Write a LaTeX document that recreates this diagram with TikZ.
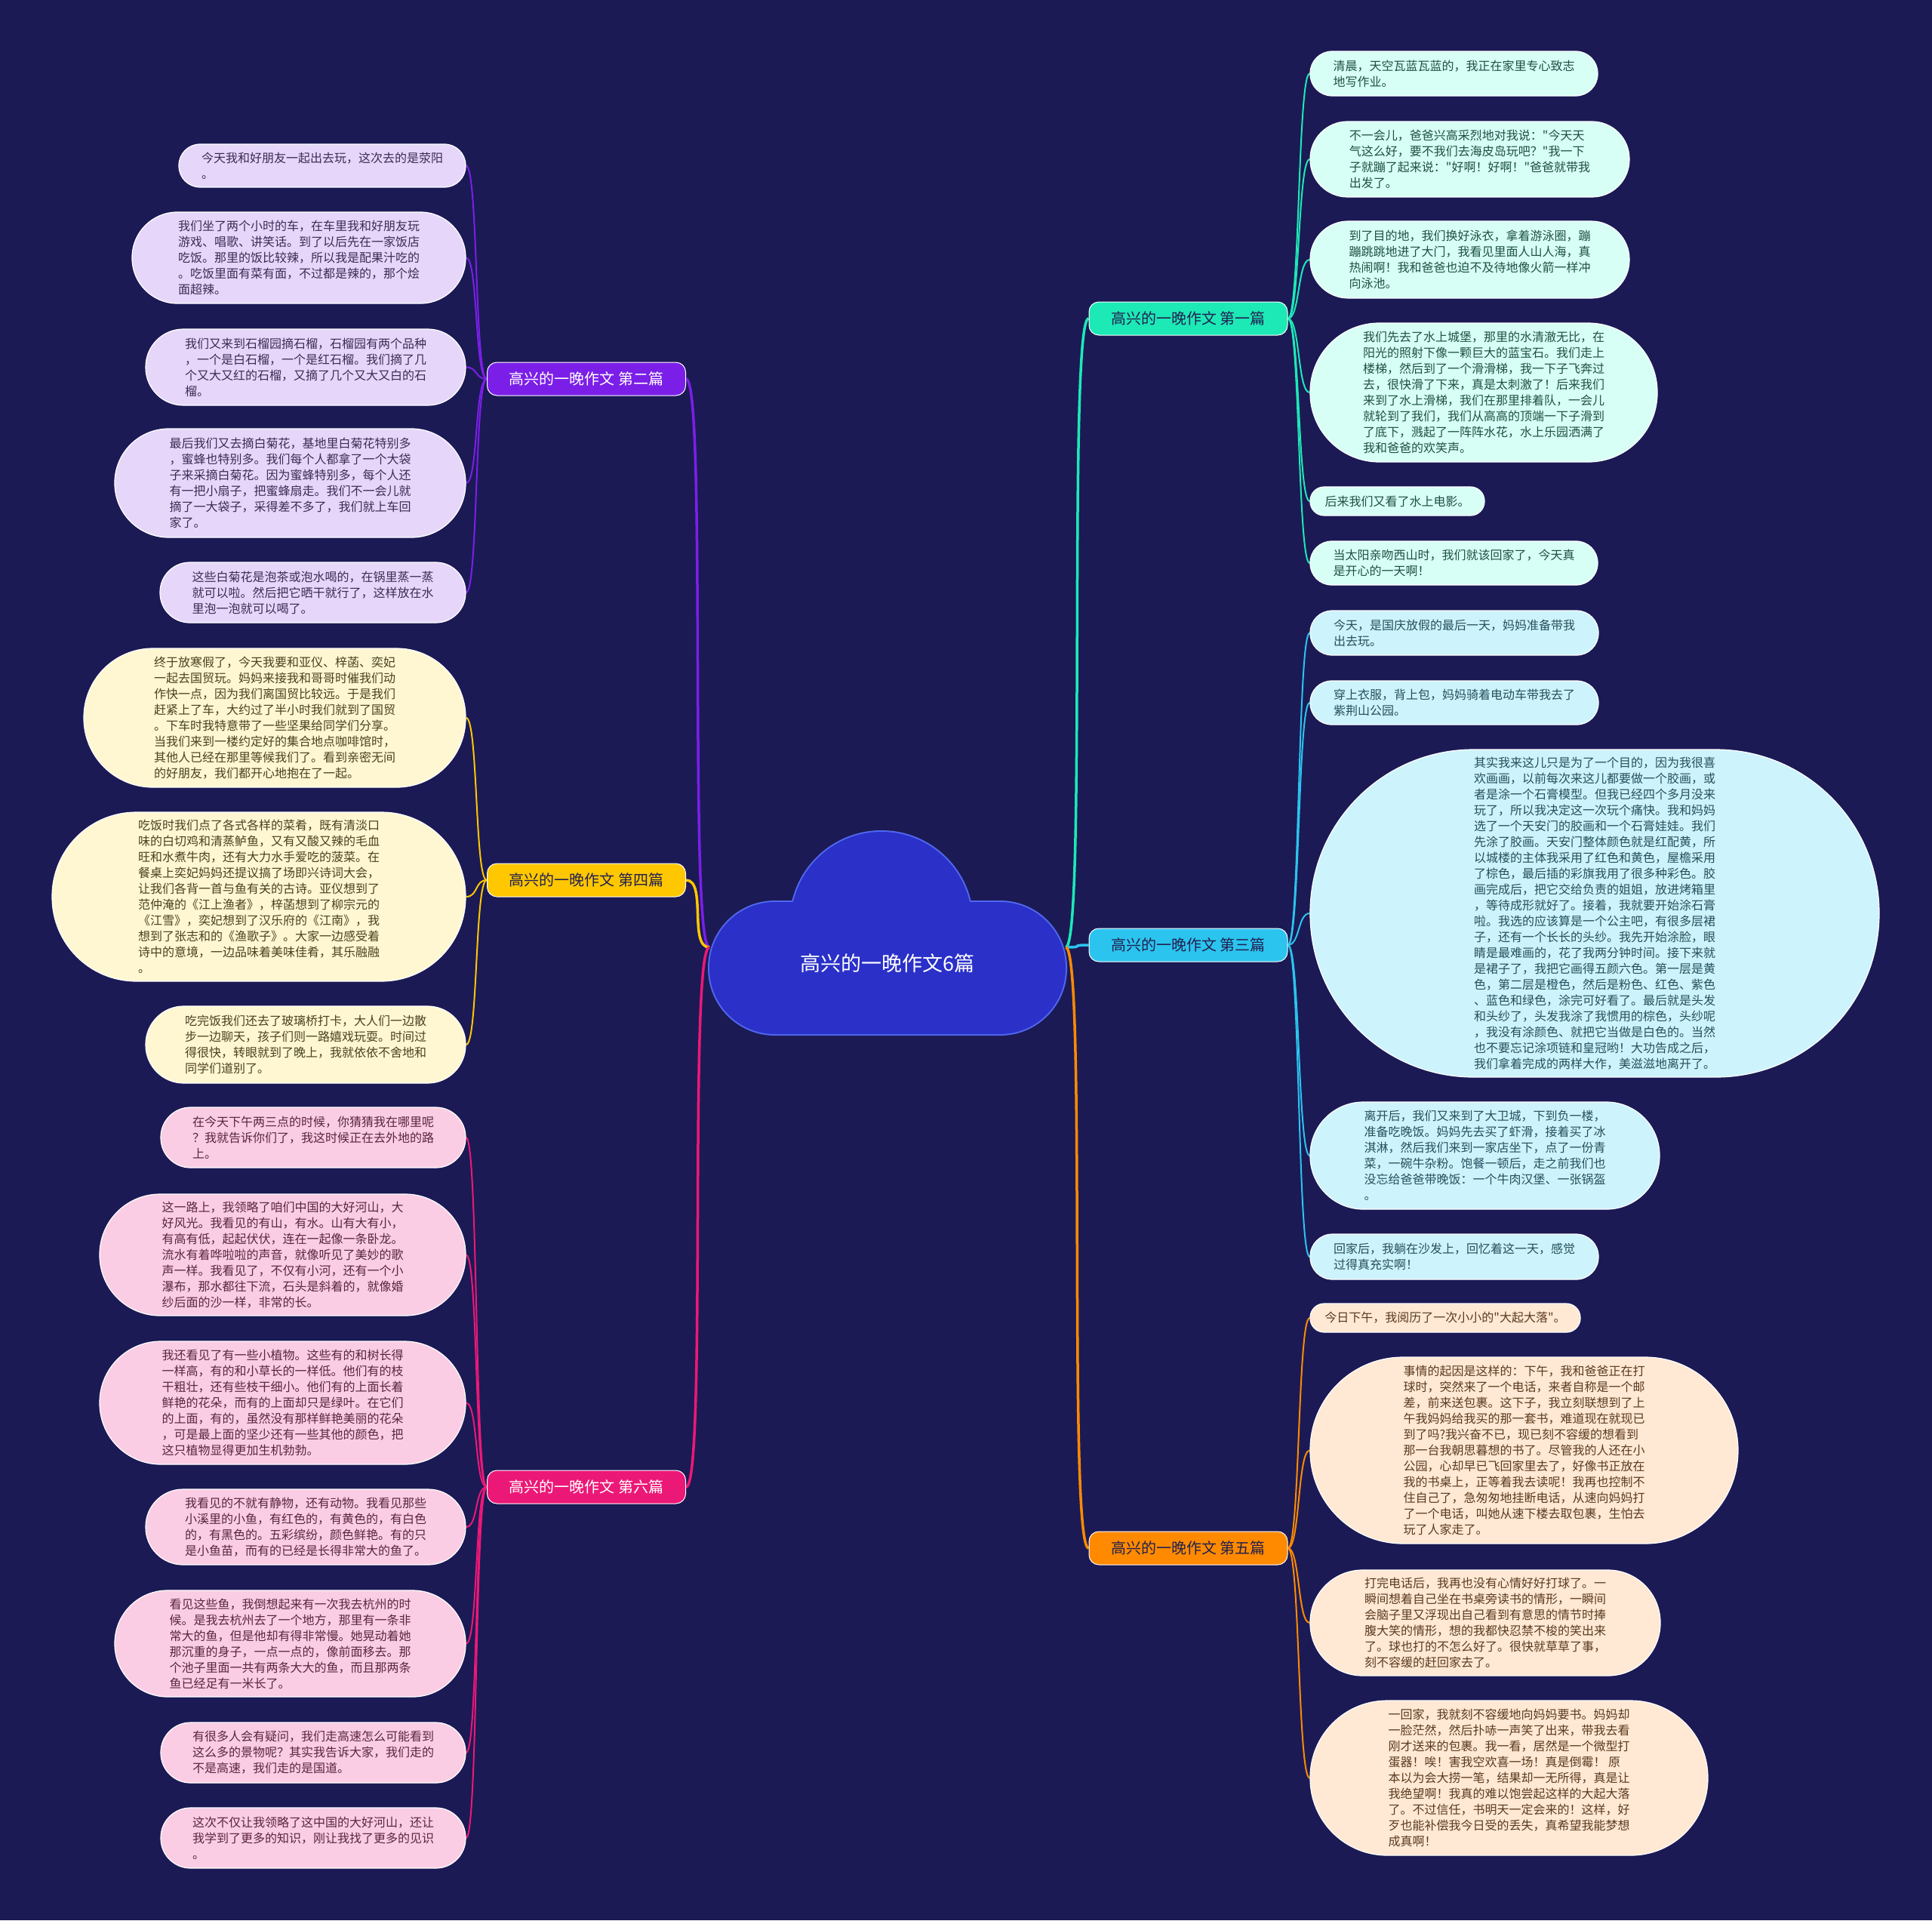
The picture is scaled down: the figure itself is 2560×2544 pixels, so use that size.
\documentclass[tikz,border=0pt]{standalone}
\usepackage{fontspec}
\setmainfont{Noto Sans CJK SC}[Ligatures=TeXOff]
\usetikzlibrary{backgrounds}
\definecolor{bgc}{HTML}{1B1A55}
\definecolor{cloudF}{HTML}{2A30C8}
\definecolor{cloudD}{HTML}{5068EE}
\definecolor{cP}{HTML}{7B1FE8}
\definecolor{cY}{HTML}{FFC700}
\definecolor{cK}{HTML}{EC1877}
\definecolor{cT}{HTML}{1DE9B6}
\definecolor{cC}{HTML}{2BC4EE}
\definecolor{cO}{HTML}{FF8A00}
\definecolor{lvP}{HTML}{E6D7FA}
\definecolor{lvY}{HTML}{FFF7D2}
\definecolor{lvK}{HTML}{FACDE4}
\definecolor{lvT}{HTML}{D7FFF5}
\definecolor{lvC}{HTML}{CDF3FC}
\definecolor{lvO}{HTML}{FFE8D4}
\definecolor{txP}{HTML}{3D2A55}
\definecolor{txY}{HTML}{4A4020}
\definecolor{txK}{HTML}{5A2440}
\definecolor{txT}{HTML}{1F4F45}
\definecolor{txC}{HTML}{24505C}
\definecolor{txO}{HTML}{5A3A1E}
\definecolor{txD}{HTML}{222050}
\begin{document}
\begin{tikzpicture}[x=1pt,y=-1pt,
  lf/.style 2 args={rectangle, minimum width=#1, minimum height=#2, rounded corners=#2/2-0.5, inner sep=0pt, align=left, draw=white, line width=1.2pt, font=\fontsize{16}{21}\selectfont},
  lfP/.style={fill=lvP, text=txP},
  lfY/.style={fill=lvY, text=txY},
  lfK/.style={fill=lvK, text=txK},
  lfT/.style={fill=lvT, text=txT},
  lfC/.style={fill=lvC, text=txC},
  lfO/.style={fill=lvO, text=txO},
  branch/.style={rectangle, rounded corners=13, minimum width=263, minimum height=44, inner sep=0pt, draw=white, line width=1pt, font=\fontsize{20}{24}\selectfont},
  cn/.style={line width=2pt},
  rcn/.style={line width=3.5pt}]
\begin{pgfonlayer}{background}
\fill[bgc] (0,0) rectangle (2560,2544);
\end{pgfonlayer}
\useasboundingbox (0,0) rectangle (2560,2544);

% cloud
\draw[cloudD, line width=4pt, rounded corners=87] (940,1195) rectangle (1412,1370);
\draw[cloudD, line width=4pt] (1168,1222) circle (120);
\fill[cloudF, rounded corners=87] (940,1195) rectangle (1412,1370);
\fill[cloudF] (1168,1222) circle (120);
\node[text=white, font=\fontsize{27}{32}\selectfont] (root) at (1176,1276) {高兴的一晚作文6篇};
\coordinate (rootR) at (1412,1255);
\coordinate (rootL) at (940,1255);

% branches
\node[branch, fill=cT, text=txD] (b1) at (1574.5,422) {高兴的一晚作文 第一篇};
\node[branch, fill=cC, text=txD] (b3) at (1574.5,1252) {高兴的一晚作文 第三篇};
\node[branch, fill=cO, text=txD] (b5) at (1574.5,2051) {高兴的一晚作文 第五篇};
\node[branch, fill=cP, text=white] (b2) at (777,502) {高兴的一晚作文 第二篇};
\node[branch, fill=cY, text=txD] (b4) at (777,1166) {高兴的一晚作文 第四篇};
\node[branch, fill=cK, text=white] (b6) at (777,1970) {高兴的一晚作文 第六篇};

% left: 第二篇
\node[lf={380}{57}, lfP] (l2a) at (427,219.5) {今天我和好朋友一起出去玩，这次去的是荥阳\\。};
\node[lf={442}{121}, lfP] (l2b) at (396,341.5) {我们坐了两个小时的车，在车里我和好朋友玩\\游戏、唱歌、讲笑话。到了以后先在一家饭店\\吃饭。那里的饭比较辣，所以我是配果汁吃的\\。吃饭里面有菜有面，不过都是辣的，那个烩\\面超辣。};
\node[lf={424}{101}, lfP] (l2c) at (405,486.5) {我们又来到石榴园摘石榴，石榴园有两个品种\\，一个是白石榴，一个是红石榴。我们摘了几\\个又大又红的石榴，又摘了几个又大又白的石\\榴。};
\node[lf={465}{144}, lfP] (l2d) at (384.5,640) {最后我们又去摘白菊花，基地里白菊花特别多\\，蜜蜂也特别多。我们每个人都拿了一个大袋\\子来采摘白菊花。因为蜜蜂特别多，每个人还\\有一把小扇子，把蜜蜂扇走。我们不一会儿就\\摘了一大袋子，采得差不多了，我们就上车回\\家了。};
\node[lf={405}{80}, lfP] (l2e) at (414.5,785) {这些白菊花是泡茶或泡水喝的，在锅里蒸一蒸\\就可以啦。然后把它晒干就行了，这样放在水\\里泡一泡就可以喝了。};

% left: 第四篇
\node[lf={506}{184}, lfY] (l4a) at (364,951) {终于放寒假了，今天我要和亚仪、梓菡、奕妃\\一起去国贸玩。妈妈来接我和哥哥时催我们动\\作快一点，因为我们离国贸比较远。于是我们\\赶紧上了车，大约过了半小时我们就到了国贸\\。下车时我特意带了一些坚果给同学们分享。\\当我们来到一楼约定好的集合地点咖啡馆时，\\其他人已经在那里等候我们了。看到亲密无间\\的好朋友，我们都开心地抱在了一起。};
\node[lf={548}{224}, lfY] (l4b) at (343,1188) {吃饭时我们点了各式各样的菜肴，既有清淡口\\味的白切鸡和清蒸鲈鱼，又有又酸又辣的毛血\\旺和水煮牛肉，还有大力水手爱吃的菠菜。在\\餐桌上奕妃妈妈还提议搞了场即兴诗词大会，\\让我们各背一首与鱼有关的古诗。亚仪想到了\\范仲淹的《江上渔者》，梓菡想到了柳宗元的\\《江雪》，奕妃想到了汉乐府的《江南》，我\\想到了张志和的《渔歌子》。大家一边感受着\\诗中的意境，一边品味着美味佳肴，其乐融融\\。};
\node[lf={424}{102}, lfY] (l4c) at (405,1384) {吃完饭我们还去了玻璃桥打卡，大人们一边散\\步一边聊天，孩子们则一路嬉戏玩耍。时间过\\得很快，转眼就到了晚上，我就依依不舍地和\\同学们道别了。};

% left: 第六篇
\node[lf={404}{80}, lfK] (l6a) at (415,1507) {在今天下午两三点的时候，你猜猜我在哪里呢\\？我就告诉你们了，我这时候正在去外地的路\\上。};
\node[lf={485}{161}, lfK] (l6b) at (374.5,1662.5) {这一路上，我领略了咱们中国的大好河山，大\\好风光。我看见的有山，有水。山有大有小，\\有高有低，起起伏伏，连在一起像一条卧龙。\\流水有着哗啦啦的声音，就像听见了美妙的歌\\声一样。我看见了，不仅有小河，还有一个小\\瀑布，那水都往下流，石头是斜着的，就像婚\\纱后面的沙一样，非常的长。};
\node[lf={485}{163}, lfK] (l6c) at (374.5,1858.5) {我还看见了有一些小植物。这些有的和树长得\\一样高，有的和小草长的一样低。他们有的枝\\干粗壮，还有些枝干细小。他们有的上面长着\\鲜艳的花朵，而有的上面却只是绿叶。在它们\\的上面，有的，虽然没有那样鲜艳美丽的花朵\\，可是最上面的坚少还有一些其他的颜色，把\\这只植物显得更加生机勃勃。};
\node[lf={424}{100}, lfK] (l6d) at (405,2023) {我看见的不就有静物，还有动物。我看见那些\\小溪里的小鱼，有红色的，有黄色的，有白色\\的，有黑色的。五彩缤纷，颜色鲜艳。有的只\\是小鱼苗，而有的已经是长得非常大的鱼了。};
\node[lf={465}{141}, lfK] (l6e) at (384.5,2177.5) {看见这些鱼，我倒想起来有一次我去杭州的时\\候。是我去杭州去了一个地方，那里有一条非\\常大的鱼，但是他却有得非常慢。她晃动着她\\那沉重的身子，一点一点的，像前面移去。那\\个池子里面一共有两条大大的鱼，而且那两条\\鱼已经足有一米长了。};
\node[lf={404}{80}, lfK] (l6f) at (415,2322) {有很多人会有疑问，我们走高速怎么可能看到\\这么多的景物呢？其实我告诉大家，我们走的\\不是高速，我们走的是国道。};
\node[lf={404}{80}, lfK] (l6g) at (415,2435) {这次不仅让我领略了这中国的大好河山，还让\\我学到了更多的知识，刚让我找了更多的见识\\。};

% right: 第一篇
\node[lf={381}{59}, lfT] (r1a) at (1926.5,97.5) {清晨，天空瓦蓝瓦蓝的，我正在家里专心致志\\地写作业。};
\node[lf={423}{100}, lfT] (r1b) at (1947.5,211) {不一会儿，爸爸兴高采烈地对我说："今天天\\气这么好，要不我们去海皮岛玩吧？"我一下\\子就蹦了起来说："好啊！好啊！"爸爸就带我\\出发了。};
\node[lf={423}{102}, lfT] (r1c) at (1947.5,344) {到了目的地，我们换好泳衣，拿着游泳圈，蹦\\蹦跳跳地进了大门，我看见里面人山人海，真\\热闹啊！我和爸爸也迫不及待地像火箭一样冲\\向泳池。};
\node[lf={460}{184}, lfT] (r1d) at (1966,520) {我们先去了水上城堡，那里的水清澈无比，在\\阳光的照射下像一颗巨大的蓝宝石。我们走上\\楼梯，然后到了一个滑滑梯，我一下子飞奔过\\去，很快滑了下来，真是太刺激了！后来我们\\来到了水上滑梯，我们在那里排着队，一会儿\\就轮到了我们，我们从高高的顶端一下子滑到\\了底下，溅起了一阵阵水花，水上乐园洒满了\\我和爸爸的欢笑声。};
\node[lf={231}{38}, lfT] (r1e) at (1851.5,664) {后来我们又看了水上电影。};
\node[lf={381}{58}, lfT] (r1f) at (1926.5,746) {当太阳亲吻西山时，我们就该回家了，今天真\\是开心的一天啊！};

% right: 第三篇
\node[lf={382}{59}, lfC] (r3a) at (1927,838.5) {今天，是国庆放假的最后一天，妈妈准备带我\\出去玩。};
\node[lf={382}{58}, lfC] (r3b) at (1927,931) {穿上衣服，背上包，妈妈骑着电动车带我去了\\紫荆山公园。};
\node[lf={754}{434}, lfC] (r3c) at (2113,1210) {其实我来这儿只是为了一个目的，因为我很喜\\欢画画，以前每次来这儿都要做一个胶画，或\\者是涂一个石膏模型。但我已经四个多月没来\\玩了，所以我决定这一次玩个痛快。我和妈妈\\选了一个天安门的胶画和一个石膏娃娃。我们\\先涂了胶画。天安门整体颜色就是红配黄，所\\以城楼的主体我采用了红色和黄色，屋檐采用\\了棕色，最后插的彩旗我用了很多种彩色。胶\\画完成后，把它交给负责的姐姐，放进烤箱里\\，等待成形就好了。接着，我就要开始涂石膏\\啦。我选的应该算是一个公主吧，有很多层裙\\子，还有一个长长的头纱。我先开始涂脸，眼\\睛是最难画的，花了我两分钟时间。接下来就\\是裙子了，我把它画得五颜六色。第一层是黄\\色，第二层是橙色，然后是粉色、红色、紫色\\、蓝色和绿色，涂完可好看了。最后就是头发\\和头纱了，头发我涂了我惯用的棕色，头纱呢\\，我没有涂颜色、就把它当做是白色的。当然\\也不要忘记涂项链和皇冠哟！大功告成之后，\\我们拿着完成的两样大作，美滋滋地离开了。};
\node[lf={463}{142}, lfC] (r3d) at (1967.5,1531) {离开后，我们又来到了大卫城，下到负一楼，\\准备吃晚饭。妈妈先去买了虾滑，接着买了冰\\淇淋，然后我们来到一家店坐下，点了一份青\\菜，一碗牛杂粉。饱餐一顿后，走之前我们也\\没忘给爸爸带晚饭：一个牛肉汉堡、一张锅盔\\。};
\node[lf={382}{60}, lfC] (r3e) at (1927,1665) {回家后，我躺在沙发上，回忆着这一天，感觉\\过得真充实啊！};

% right: 第五篇
\node[lf={358}{38}, lfO] (r5a) at (1915,1746) {今日下午，我阅历了一次小小的"大起大落"。};
\node[lf={567}{247}, lfO] (r5b) at (2019.5,1921.5) {事情的起因是这样的：下午，我和爸爸正在打\\球时，突然来了一个电话，来者自称是一个邮\\差，前来送包裹。这下子，我立刻联想到了上\\午我妈妈给我买的那一套书，难道现在就现已\\到了吗?我兴奋不已，现已刻不容缓的想看到\\那一台我朝思暮想的书了。尽管我的人还在小\\公园，心却早已飞回家里去了，好像书正放在\\我的书桌上，正等着我去读呢！我再也控制不\\住自己了，急匆匆地挂断电话，从速向妈妈打\\了一个电话，叫她从速下楼去取包裹，生怕去\\玩了人家走了。};
\node[lf={464}{140}, lfO] (r5c) at (1968,2150) {打完电话后，我再也没有心情好好打球了。一\\瞬间想着自己坐在书桌旁读书的情形，一瞬间\\会脑子里又浮现出自己看到有意思的情节时捧\\腹大笑的情形，想的我都快忍禁不梭的笑出来\\了。球也打的不怎么好了。很快就草草了事，\\刻不容缓的赶回家去了。};
\node[lf={527}{205}, lfO] (r5d) at (1999.5,2355.5) {一回家，我就刻不容缓地向妈妈要书。妈妈却\\一脸茫然，然后扑哧一声笑了出来，带我去看\\刚才送来的包裹。我一看，居然是一个微型打\\蛋器！唉！害我空欢喜一场！真是倒霉！ 原\\本以为会大捞一笔，结果却一无所得，真是让\\我绝望啊！我真的难以饱尝起这样的大起大落\\了。不过信任，书明天一定会来的！这样，好\\歹也能补偿我今日受的丢失，真希望我能梦想\\成真啊！};

% connectors
\begin{pgfonlayer}{background}
\draw[rcn, cT] (rootR) .. controls +(28,0) and +(-28,0) .. (b1.west);
\draw[rcn, cC] (rootR) .. controls +(28,0) and +(-28,0) .. (b3.west);
\draw[rcn, cO] (rootR) .. controls +(28,0) and +(-28,0) .. (b5.west);
\draw[rcn, cP] (rootL) .. controls +(-28,0) and +(28,0) .. (b2.east);
\draw[rcn, cY] (rootL) .. controls +(-28,0) and +(28,0) .. (b4.east);
\draw[rcn, cK] (rootL) .. controls +(-28,0) and +(28,0) .. (b6.east);
\foreach \n in {r1a,r1b,r1c,r1d,r1e,r1f}
  \draw[cn, cT] (b1.east) .. controls +(16,0) and +(-16,0) .. (\n.west);
\foreach \n in {r3a,r3b,r3c,r3d,r3e}
  \draw[cn, cC] (b3.east) .. controls +(16,0) and +(-16,0) .. (\n.west);
\foreach \n in {r5a,r5b,r5c,r5d}
  \draw[cn, cO] (b5.east) .. controls +(16,0) and +(-16,0) .. (\n.west);
\foreach \n in {l2a,l2b,l2c,l2d,l2e}
  \draw[cn, cP] (b2.west) .. controls +(-16,0) and +(16,0) .. (\n.east);
\foreach \n in {l4a,l4b,l4c}
  \draw[cn, cY] (b4.west) .. controls +(-16,0) and +(16,0) .. (\n.east);
\foreach \n in {l6a,l6b,l6c,l6d,l6e,l6f,l6g}
  \draw[cn, cK] (b6.west) .. controls +(-16,0) and +(16,0) .. (\n.east);
\end{pgfonlayer}
\end{tikzpicture}
\end{document}
